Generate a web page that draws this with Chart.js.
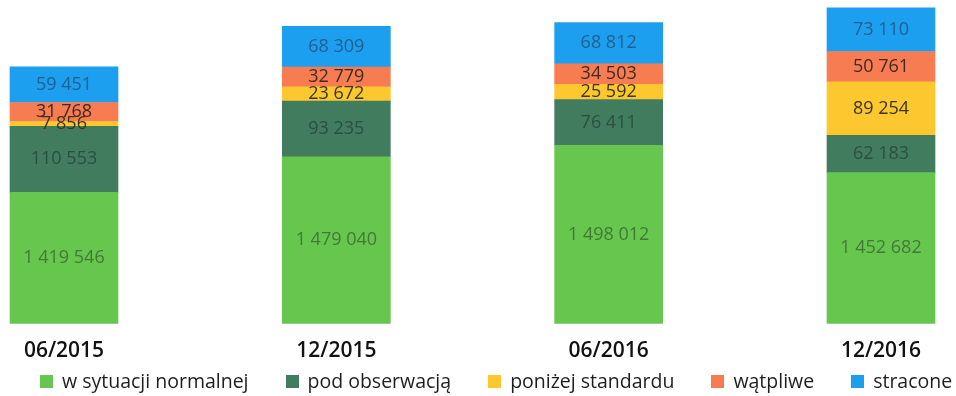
<!DOCTYPE html>
<html lang="pl">
<head>
<meta charset="utf-8">
<title>Portfel kredytowy</title>
<script src="https://cdn.jsdelivr.net/npm/chart.js@4.4.1/dist/chart.umd.min.js"></script>
<style>
  html, body { margin: 0; padding: 0; background: #fff; }
  #wrap { position: relative; width: 956px; height: 396px; overflow: hidden; }
  #legend {
    position: absolute; left: 40px; top: 370px; width: 920px;
    display: flex; gap: 37px;
    font: 19.5px "Open Sans", sans-serif; color: #1e1e1e; line-height: 22px;
  }
  #legend span.item { display: flex; align-items: center; white-space: nowrap; flex: none; }
  #legend i { display: inline-block; width: 13px; height: 13px; margin-right: 9px; }
</style>
</head>
<body>
<div id="wrap">
  <canvas id="portfolioChart" width="956" height="396"></canvas>
  <div id="legend"></div>
</div>
<script>
// Data
const categories = ['06/2015', '12/2015', '06/2016', '12/2016'];
const seriesNames = ['w sytuacji normalnej', 'pod obserwacją', 'poniżej standardu', 'wątpliwe', 'stracone'];
const normalne = [1419546, 1479040, 1498012, 1452682];
const podObserwacja = [110553, 93235, 76411, 62183];
const ponizejStandardu = [7856, 23672, 25592, 89254];
const watpliwe = [31768, 32779, 34503, 50761];
const stracone = [59451, 68309, 68812, 73110];

// Styles
const seriesColors = ['#66c64e', '#427c5e', '#fdc72f', '#f77c51', '#1d9ff0'];
const labelColors = ['rgba(55,95,45,0.75)', 'rgba(35,65,50,0.75)', '#3b3518', '#3f2a22', 'rgba(35,80,120,0.8)'];

const seriesValues = [normalne, podObserwacja, ponizejStandardu, watpliwe, stracone];

function fmt(n) {
    return n.toString().replace(/\B(?=(\d{3})+(?!\d))/g, ' ');
}

// Value labels in the middle of each visible segment
const segmentLabels = {
    id: 'segmentLabels',
    afterDatasetsDraw(chart) {
        const ctx = chart.ctx;
        const area = chart.chartArea;
        ctx.save();
        ctx.font = '18px "Open Sans", sans-serif';
        ctx.textAlign = 'center';
        ctx.textBaseline = 'middle';
        chart.data.datasets.forEach((ds, i) => {
            chart.getDatasetMeta(i).data.forEach((bar, j) => {
                const bottom = Math.min(bar.base, area.bottom);
                ctx.fillStyle = labelColors[i];
                ctx.fillText(fmt(ds.data[j]), bar.x, (bar.y + bottom) / 2);
            });
        });
        ctx.restore();
    }
};

const ctx = document.getElementById('portfolioChart').getContext('2d');
new Chart(ctx, {
    type: 'bar',
    data: {
        labels: categories,
        datasets: seriesNames.map((name, i) => ({
            label: name,
            data: seriesValues[i],
            backgroundColor: seriesColors[i],
            barThickness: 108,
            clip: { left: 80, right: 80, top: 20, bottom: 0 }
        }))
    },
    options: {
        responsive: false,
        animation: false,
        layout: { padding: { left: 64, right: 75, top: 0, bottom: 17 } },
        plugins: {
            legend: { display: false },
            tooltip: { enabled: false }
        },
        scales: {
            x: {
                stacked: true,
                offset: false,
                grid: { display: false, drawTicks: false },
                border: { display: false },
                ticks: {
                    padding: 15,
                    maxRotation: 0,
                    color: '#111',
                    font: { family: 'Open Sans', size: 21, weight: '600' }
                }
            },
            y: {
                stacked: true,
                display: false,
                min: 1200000,
                max: 1741000
            }
        }
    },
    plugins: [segmentLabels]
});

// HTML legend
const legend = document.getElementById('legend');
seriesNames.forEach((name, i) => {
    const item = document.createElement('span');
    item.className = 'item';
    const box = document.createElement('i');
    box.style.background = seriesColors[i];
    item.appendChild(box);
    item.appendChild(document.createTextNode(name));
    legend.appendChild(item);
});
</script>
</body>
</html>
